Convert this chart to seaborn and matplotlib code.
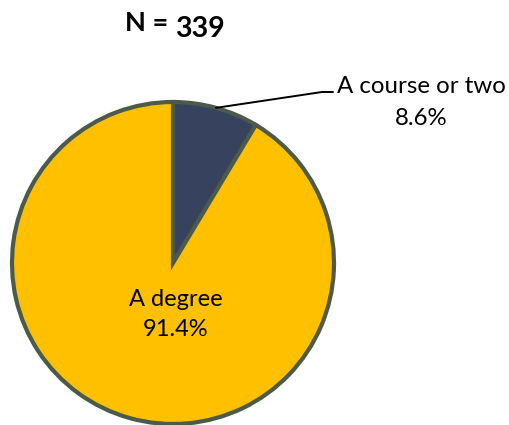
import numpy as np
import matplotlib
matplotlib.use("Agg")
import matplotlib.pyplot as plt
import seaborn as sns

categories = ["A course or two", "A degree"]
shares = [8.6, 91.4]
colors = ["#37435e", "#ffc000"]
n_total = 339

sns.set_theme(style="white")
plt.rcParams['font.family'] = ['Lato', 'DejaVu Sans']

fig = plt.figure(figsize=(5.10, 4.25), dpi=100)
ax = fig.add_axes([0, 0, 1, 1])

cx, cy, r = 173, 162, 161
wedges, _ = ax.pie(shares, colors=colors, startangle=90, counterclock=False,
                   center=(cx, cy), radius=r,
                   wedgeprops=dict(edgecolor="#4b5a49", linewidth=3.0))
ax.set_xlim(0, 510)
ax.set_ylim(0, 425)
ax.set_aspect('auto')
ax.axis('off')

# small slice label with leader line
w = wedges[0]
mid = np.deg2rad((w.theta1 + w.theta2) / 2)
px, py = cx + r * np.cos(mid), cy + r * np.sin(mid)
ax.plot([px, 322, 333], [py, 333, 333], color="black", lw=1.4)
ax.text(337, 339, categories[0], ha="left", va="center", fontsize=17.3, color="black")
ax.text(421, 307, f"{shares[0]}%", ha="center", va="center", fontsize=17.3, color="black")

# large slice label
ax.text(176, 126, categories[1], ha="center", va="center", fontsize=17, color="black")
ax.text(176, 96, f"{shares[1]}%", ha="center", va="center", fontsize=17, color="black")

# title
fig.text(168, 402, "N =", transform=None, ha="right", va="center",
         fontsize=19.5, fontweight="bold", color="black")
fig.text(175, 396, f"{n_total}", transform=None, ha="left", va="center",
         fontsize=20.5, fontweight="bold", color="black")

fig.savefig("out.png", dpi=100)
